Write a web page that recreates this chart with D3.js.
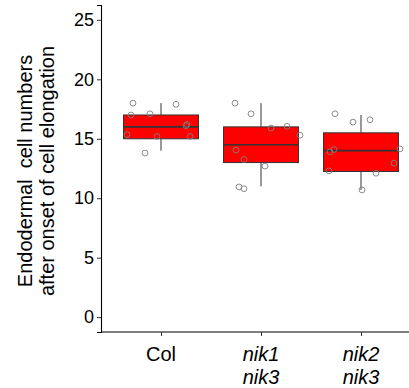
<!DOCTYPE html>
<html lang="en">
<head>
<meta charset="UTF-8">
<title>Endodermal cell numbers</title>
<script src="https://d3js.org/d3.v7.js"></script>
<style>
  body { margin: 0; background: #fff; }
  text { font-family: "Liberation Sans", Arial, sans-serif; }
</style>
</head>
<body>
<svg></svg>
<script>
    // genotypes (second line of label in italics where present)
    let categories = ["Col", "nik1 nik3", "nik2 nik3"];
    let labelLines = [["Col"], ["nik1", "nik3"], ["nik2", "nik3"]];
    let italicLabel = [false, true, true];

    // box stats: [lower whisker, Q1, median, Q3, upper whisker]
    let boxStats = [
        [14, 15, 16, 17, 18],
        [11, 13, 14.5, 16, 18],
        [10.7, 12.25, 14, 15.5, 17]
    ];

    // individual observations (jittered x offset in category units, value)
    let colPoints = [[-0.28, 18.0], [-0.3, 17.0], [-0.11, 17.1], [0.15, 17.9], [0.26, 16.2], [0.25, 16.1],
        [-0.34, 15.35], [-0.04, 15.2], [0.29, 15.2], [-0.16, 13.8]];
    let nik13Points = [[-0.26, 18.0], [-0.1, 17.1], [0.1, 15.9], [0.26, 16.05], [0.39, 15.3], [-0.25, 14.05],
        [-0.17, 13.26], [0.04, 12.7], [-0.22, 10.95], [-0.17, 10.8]];
    let nik23Points = [[-0.26, 17.1], [0.09, 16.6], [-0.08, 16.4], [-0.27, 14.1], [-0.31, 13.9], [0.39, 14.15],
        [0.33, 12.95], [0.15, 12.1], [-0.32, 12.3], [0.01, 10.7]];
    let points = [colPoints, nik13Points, nik23Points];

    let yTicks = [0, 5, 10, 15, 20, 25];

    let width = 409;
    let height = 388;

    let svg = d3.select("svg")
        .attr("width", width)
        .attr("height", height);

    // ggplot-style discrete expansion: 0.6 units each side
    let x = d3.scaleLinear().domain([0.4, 3.6]).range([101, 421]);
    let y = d3.scaleLinear().domain([-1.25, 26.25]).range([332, 5]);

    let boxWidth = 0.75;

    // axes
    let yAxis = d3.axisLeft(y).tickValues(yTicks).tickSize(4).tickPadding(3);
    let gy = svg.append("g")
        .attr("transform", "translate(101,0)")
        .call(yAxis);
    gy.select(".domain").attr("stroke", "#000").attr("stroke-width", 1.1);
    gy.selectAll(".tick line").attr("stroke", "#333");
    gy.selectAll(".tick text")
        .attr("fill", "#000")
        .style("font-size", "18px");

    let xAxis = d3.axisBottom(x).tickValues([1, 2, 3]).tickSize(4).tickFormat("");
    let gx = svg.append("g")
        .attr("transform", "translate(0,332)")
        .call(xAxis);
    gx.select(".domain").attr("stroke", "#000").attr("stroke-width", 1.1)
        .attr("d", "M101,0H421");
    gx.selectAll(".tick line").attr("stroke", "#333");

    // x labels
    let xl = svg.append("g").selectAll("text").data(categories).enter()
        .append("text")
        .attr("x", (d, i) => x(i + 1))
        .attr("y", 361)
        .attr("text-anchor", "middle")
        .style("font-size", "20px")
        .style("font-style", (d, i) => italicLabel[i] ? "italic" : "normal")
        .attr("fill", "#000");
    xl.selectAll("tspan").data((d, i) => labelLines[i]).enter()
        .append("tspan")
        .attr("x", function () { return d3.select(this.parentNode).attr("x"); })
        .attr("dy", (d, j) => j === 0 ? 0 : 23)
        .text(d => d);

    // y axis title
    svg.append("text")
        .attr("transform", "translate(32,171) rotate(-90)")
        .attr("text-anchor", "middle")
        .style("font-size", "20px")
        .style("white-space", "pre")
        .attr("xml:space", "preserve")
        .text("Endodermal  cell numbers");
    svg.append("text")
        .attr("transform", "translate(54,171) rotate(-90)")
        .attr("text-anchor", "middle")
        .style("font-size", "20px")
        .text("after onset of cell elongation");

    // boxes
    let boxes = svg.append("g").selectAll("g").data(boxStats).enter().append("g");
    boxes.append("line")
        .attr("x1", (d, i) => x(i + 1)).attr("x2", (d, i) => x(i + 1))
        .attr("y1", d => y(d[0])).attr("y2", d => y(d[1]))
        .attr("stroke", "#333").attr("stroke-width", 1);
    boxes.append("line")
        .attr("x1", (d, i) => x(i + 1)).attr("x2", (d, i) => x(i + 1))
        .attr("y1", d => y(d[3])).attr("y2", d => y(d[4]))
        .attr("stroke", "#333").attr("stroke-width", 1);
    boxes.append("rect")
        .attr("x", (d, i) => x(i + 1 - boxWidth / 2))
        .attr("width", x(boxWidth) - x(0))
        .attr("y", d => y(d[3]))
        .attr("height", d => y(d[1]) - y(d[3]))
        .attr("fill", "#ff0000")
        .attr("stroke", "#333")
        .attr("stroke-width", 1);
    boxes.append("line")
        .attr("x1", (d, i) => x(i + 1 - boxWidth / 2))
        .attr("x2", (d, i) => x(i + 1 + boxWidth / 2))
        .attr("y1", d => y(d[2])).attr("y2", d => y(d[2]))
        .attr("stroke", "#333").attr("stroke-width", 1.6);

    // jittered points
    points.forEach(function (pts, i) {
        svg.append("g").selectAll("circle").data(pts).enter()
            .append("circle")
            .attr("cx", d => x(i + 1 + d[0]))
            .attr("cy", d => y(d[1]))
            .attr("r", 2.9)
            .attr("fill", "none")
            .attr("stroke", "#7f7f7f")
            .attr("stroke-width", 0.9);
    });
</script>
</body>
</html>
